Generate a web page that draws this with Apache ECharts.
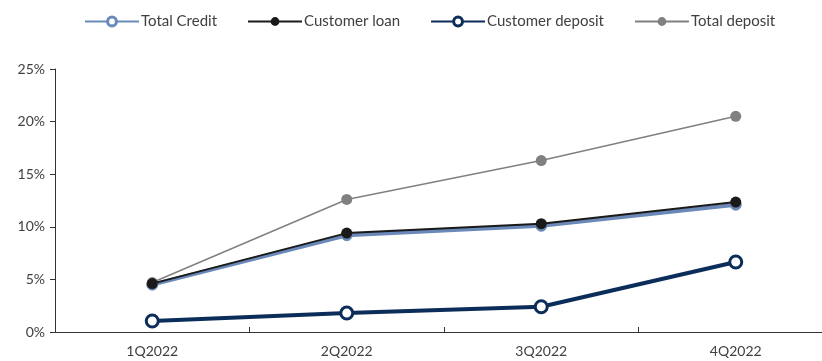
<!DOCTYPE html>
<html><head><meta charset="utf-8">
<script src="https://cdn.jsdelivr.net/npm/echarts@6/dist/echarts.min.js"></script>
<style>html,body{margin:0;padding:0;background:#fff;overflow:hidden}#c{width:833px;height:361px}</style>
</head><body><div id="c"></div>
<script>
const categories = ['1Q2022','2Q2022','3Q2022','4Q2022'];
const totalCredit = [4.5, 9.2, 10.1, 12.1];
const customerLoan = [4.6, 9.4, 10.3, 12.35];
const customerDeposit = [1.05, 1.8, 2.4, 6.65];
const totalDeposit = [4.7, 12.6, 16.3, 20.5];

const chart = echarts.init(document.getElementById('c'));
const font = 'Lato, "Open Sans", sans-serif';
const navy = '#0b2d5a', steel = '#6a89b8';
chart.setOption({
  animation: false,
  textStyle: {fontFamily: font},
  legend: {
    top: 14, left: 84, padding: 0, itemWidth: 54, itemHeight: 11, itemGap: 30,
    textStyle: {fontSize: 15, color: '#404040', fontFamily: font, padding: [0,0,0,-3]},
    data: [
      {name: 'Total Credit', itemStyle: {color: '#fff', borderColor: steel, borderWidth: 3}},
      {name: 'Customer loan'},
      {name: 'Customer deposit', itemStyle: {color: '#fff', borderColor: navy, borderWidth: 3}},
      {name: 'Total deposit'}
    ]
  },
  grid: {left: 55, right: 0, top: 69, bottom: 29, containLabel: false},
  xAxis: {
    type: 'category', data: categories, boundaryGap: true,
    axisLine: {lineStyle: {color: '#333', width: 1}},
    axisTick: {show: true, inside: true, length: 5, lineStyle: {color: '#333'}},
    axisLabel: {color: '#404040', fontSize: 14, margin: 12, fontFamily: font}
  },
  yAxis: {
    type: 'value', min: 0, max: 25, interval: 5,
    axisLine: {show: true, lineStyle: {color: '#333', width: 1}},
    axisTick: {show: true, length: 5, lineStyle: {color: '#333'}},
    splitLine: {show: false},
    axisLabel: {color: '#404040', fontSize: 14, margin: 10, fontFamily: font, formatter: '{value}%'}
  },
  series: [
    {name: 'Total Credit', type: 'line', data: totalCredit, symbol: 'circle', symbolSize: 11,
     lineStyle: {color: steel, width: 4}, itemStyle: {color: steel, borderColor: steel}, z: 1},
    {name: 'Total deposit', type: 'line', data: totalDeposit, symbol: 'circle', symbolSize: 11,
     lineStyle: {color: '#808080', width: 1.5}, itemStyle: {color: '#808080'}, z: 2},
    {name: 'Customer loan', type: 'line', data: customerLoan, symbol: 'circle', symbolSize: 11,
     lineStyle: {color: '#1a1a1a', width: 2}, itemStyle: {color: '#1a1a1a'}, z: 3},
    {name: 'Customer deposit', type: 'line', data: customerDeposit, symbol: 'circle', symbolSize: 12,
     lineStyle: {color: navy, width: 4}, itemStyle: {color: '#ffffff', borderColor: navy, borderWidth: 3}, z: 4}
  ]
});
</script></body></html>
